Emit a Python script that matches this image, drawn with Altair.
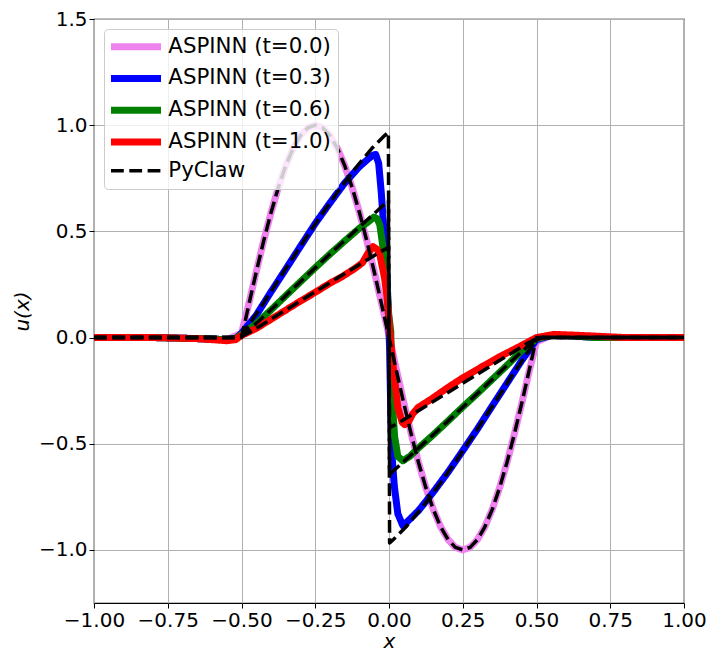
import altair as alt
import pandas as pd

LABELS = ["ASPINN (t=0.0)", "ASPINN (t=0.3)", "ASPINN (t=0.6)", "ASPINN (t=1.0)", "PyClaw"]
COLORS = ["violet", "blue", "green", "red", "black"]
WIDTHS = [7, 7, 7, 7, 3.5]
DASHES = [[1, 0], [1, 0], [1, 0], [1, 0], [12.8, 5.5]]

X_TICKS = [-1.0, -0.75, -0.5, -0.25, 0.0, 0.25, 0.5, 0.75, 1.0]
Y_TICKS = [-1.0, -0.5, 0.0, 0.5, 1.0, 1.5]

# ---------------- t = 0.0 ----------------
pc0_x = [-1.0, -0.75, -0.55, -0.5, -0.475, -0.45, -0.425, -0.4, -0.375, -0.35, -0.325, -0.3,
         -0.275, -0.25, -0.225, -0.2, -0.175, -0.15, -0.125, -0.1, -0.075, -0.05, -0.025, 0.0,
         0.025, 0.05, 0.075, 0.1, 0.125, 0.15, 0.175, 0.2, 0.225, 0.25, 0.275, 0.3, 0.325,
         0.35, 0.375, 0.4, 0.425, 0.45, 0.475, 0.5, 0.55, 0.75, 1.0]
pc0_u = [0.0, 0.0, 0.0, 0.0, 0.156, 0.309, 0.454, 0.588, 0.707, 0.809, 0.891, 0.951,
         0.988, 1.0, 0.988, 0.951, 0.891, 0.809, 0.707, 0.588, 0.454, 0.309, 0.156, 0.0,
         -0.156, -0.309, -0.454, -0.588, -0.707, -0.809, -0.891, -0.951, -0.988, -1.0, -0.988,
         -0.951, -0.891, -0.809, -0.707, -0.588, -0.454, -0.309, -0.156, 0.0, 0.0, 0.0, 0.0]

as0_x = pc0_x
as0_u = [0.0, 0.0, -0.01, 0.02, 0.16, 0.31, 0.455, 0.588, 0.707, 0.809, 0.891, 0.951,
         0.988, 1.0, 0.988, 0.951, 0.891, 0.809, 0.707, 0.588, 0.454, 0.31, 0.16, 0.01,
         -0.15, -0.305, -0.452, -0.588, -0.707, -0.809, -0.891, -0.951, -0.988, -1.0, -0.988,
         -0.951, -0.891, -0.809, -0.707, -0.588, -0.454, -0.31, -0.16, -0.02, 0.01, 0.0, 0.0]

# ---------------- t = 0.3 ----------------
pc3_x = [-1.0, -0.75, -0.55, -0.52, -0.5, -0.428, -0.357, -0.289, -0.224, -0.163, -0.107,
         -0.058, -0.015, -0.002, 0.002, 0.015, 0.058, 0.107, 0.163, 0.224, 0.289, 0.357,
         0.428, 0.5, 0.52, 0.55, 0.75, 1.0]
pc3_u = [0.0, 0.0, 0.0, 0.0, 0.01, 0.156, 0.309, 0.454, 0.588, 0.707, 0.809,
         0.891, 0.951, 0.967, -0.967, -0.951, -0.891, -0.809, -0.707, -0.588, -0.454, -0.309,
         -0.156, -0.01, 0.0, 0.0, 0.0, 0.0]

as3_x = [-1.0, -0.8, -0.65, -0.55, -0.52, -0.5, -0.45, -0.4, -0.35, -0.3, -0.25, -0.2, -0.15,
         -0.1, -0.07, -0.055, -0.045, -0.035, -0.026, -0.018, -0.009, -0.003, 0.002, 0.006,
         0.01, 0.018, 0.03, 0.047, 0.06, 0.1, 0.15, 0.2, 0.25, 0.3, 0.35, 0.4, 0.45, 0.5,
         0.55, 0.6, 0.7, 0.85, 1.0]
as3_u = [0.0, 0.0, -0.005, -0.01, -0.005, 0.02, 0.105, 0.215, 0.322, 0.43, 0.537, 0.634, 0.728,
         0.805, 0.842, 0.858, 0.862, 0.82, 0.68, 0.52, 0.36, 0.15, -0.05, -0.35,
         -0.55, -0.7, -0.83, -0.886, -0.87, -0.815, -0.728, -0.634, -0.533, -0.43, -0.322,
         -0.215, -0.108, -0.01, 0.01, 0.01, 0.0, 0.0, 0.0]

# ---------------- t = 0.6 ----------------
pc6_x = [-1.0, -0.75, -0.55, -0.52, -0.5, -0.44, -0.381, -0.323, -0.265, -0.208, -0.153,
         -0.099, -0.047, -0.008, -0.002, 0.002, 0.008, 0.047, 0.099, 0.153, 0.208, 0.265,
         0.323, 0.381, 0.44, 0.5, 0.52, 0.55, 0.75, 1.0]
pc6_u = [0.0, 0.0, 0.0, 0.0, 0.005, 0.079, 0.156, 0.233, 0.309, 0.383, 0.454,
         0.522, 0.588, 0.637, 0.645, -0.645, -0.637, -0.588, -0.522, -0.454, -0.383, -0.309,
         -0.233, -0.156, -0.079, -0.005, 0.0, 0.0, 0.0, 0.0]

as6_x = [-1.0, -0.8, -0.65, -0.55, -0.52, -0.5, -0.45, -0.4, -0.35, -0.3, -0.25, -0.2, -0.15,
         -0.1, -0.07, -0.051, -0.04, -0.031, -0.02, -0.009, -0.001, 0.006, 0.01, 0.019, 0.03,
         0.047, 0.07, 0.1, 0.15, 0.2, 0.25, 0.3, 0.35, 0.4, 0.45, 0.5, 0.55, 0.6, 0.7, 0.85, 1.0]
as6_u = [0.0, 0.0, -0.005, -0.01, -0.005, 0.015, 0.065, 0.13, 0.197, 0.263, 0.329, 0.393, 0.455,
         0.515, 0.545, 0.567, 0.56, 0.53, 0.42, 0.28, 0.11, 0.03, -0.28, -0.466, -0.56,
         -0.58, -0.56, -0.52, -0.458, -0.393, -0.327, -0.263, -0.197, -0.131, -0.062, -0.005,
         0.01, 0.01, 0.0, 0.0, 0.0]

# ---------------- t = 1.0 ----------------
pc10_x = [-1.0, -0.75, -0.55, -0.52, -0.5, -0.464, -0.427, -0.355, -0.283, -0.211, -0.141,
          -0.072, -0.038, -0.002, 0.002, 0.038, 0.072, 0.141, 0.211, 0.283, 0.355, 0.427,
          0.464, 0.5, 0.52, 0.55, 0.75, 1.0]
pc10_u = [0.0, 0.0, 0.0, 0.0, 0.005, 0.031, 0.063, 0.125, 0.187, 0.249, 0.309,
          0.368, 0.397, 0.425, -0.425, -0.397, -0.368, -0.309, -0.249, -0.187, -0.125, -0.063,
          -0.031, -0.005, 0.0, 0.0, 0.0, 0.0]

as10_x = [-1.0, -0.8, -0.65, -0.55, -0.52, -0.5, -0.45, -0.4, -0.35, -0.3, -0.25, -0.2, -0.161,
          -0.116, -0.09, -0.07, -0.054, -0.04, -0.031, -0.015, -0.005, 0.003, 0.0135, 0.03,
          0.045, 0.053, 0.065, 0.08, 0.098, 0.143, 0.2, 0.25, 0.312, 0.375, 0.425, 0.5, 0.56,
          0.65, 0.8, 1.0]
as10_u = [0.0, 0.0, -0.005, -0.015, -0.01, 0.01, 0.043, 0.086, 0.129, 0.172, 0.213, 0.256, 0.285,
          0.325, 0.352, 0.4, 0.428, 0.415, 0.39, 0.28, 0.17, 0.02, -0.13, -0.33,
          -0.4, -0.41, -0.4, -0.36, -0.33, -0.29, -0.235, -0.19, -0.14, -0.09, -0.055, 0.0, 0.015,
          0.01, 0.0, 0.0]

CURVES = [
    ("a0", LABELS[0], as0_x, as0_u),
    ("a3", LABELS[1], as3_x, as3_u),
    ("a6", LABELS[2], as6_x, as6_u),
    ("a10", LABELS[3], as10_x, as10_u),
    ("p0", LABELS[4], pc0_x, pc0_u),
    ("p3", LABELS[4], pc3_x, pc3_u),
    ("p6", LABELS[4], pc6_x, pc6_u),
    ("p10", LABELS[4], pc10_x, pc10_u),
]

frames = []
for cid, label, xs, us in CURVES:
    frames.append(pd.DataFrame({"x": xs, "u": us, "series": label, "curve": cid,
                                "order": list(range(len(xs)))}))
df = pd.concat(frames, ignore_index=True)

minus_expr = "replace(datum.label, '-', '\u2212')"

base = alt.Chart(df).mark_line(strokeCap="butt", strokeJoin="round", clip=True).encode(
    x=alt.X("x:Q", scale=alt.Scale(domain=[-1, 1], nice=False, zero=False),
            axis=alt.Axis(values=X_TICKS, format=".2f", labelExpr=minus_expr, title="x",
                          labelOverlap=False, labelBound=False, labelFlush=False)),
    y=alt.Y("u:Q", scale=alt.Scale(domain=[-1.25, 1.5], nice=False, zero=False),
            axis=alt.Axis(values=Y_TICKS, format=".1f", labelExpr=minus_expr, title="u(x)",
                          labelOverlap=False, labelBound=False, labelFlush=False)),
    color=alt.Color("series:N", scale=alt.Scale(domain=LABELS, range=COLORS),
                    legend=alt.Legend(title=None)),
    strokeDash=alt.StrokeDash("series:N", scale=alt.Scale(domain=LABELS, range=DASHES),
                              legend=alt.Legend(title=None)),
    strokeWidth=alt.StrokeWidth("series:N", scale=alt.Scale(type="ordinal", domain=LABELS, range=WIDTHS),
                                legend=alt.Legend(title=None)),
    order=alt.Order("order:Q"),
)

layers = [base.transform_filter(alt.datum.curve == cid) for cid, _, _, _ in CURVES]

chart = alt.layer(*layers).properties(
    width=590, height=584,
    autosize=alt.AutoSizeParams(type="none"),
    padding={"left": 86, "top": 11, "right": 22, "bottom": 49},
).configure_view(
    stroke="black", strokeWidth=1.2
).configure_axis(
    domain=False, grid=True, gridColor="#b0b0b0", gridWidth=1, gridOpacity=1,
    tickColor="black", tickSize=5, tickWidth=1,
    labelFont="DejaVu Sans", labelFontSize=20, labelColor="black", labelPadding=2,
    titleFont="DejaVu Sans", titleFontSize=20, titleFontWeight="normal",
    titleFontStyle="italic", titleColor="black",
).configure_axisX(
    titlePadding=1
).configure_axisY(
    titlePadding=6
).configure_legend(
    orient="none", legendX=10, legendY=10,
    symbolType="M-3.571,0H3.571", symbolSize=196, symbolStrokeWidth=7, symbolOffset=14.35,
    labelFont="DejaVu Sans", labelFontSize=21.3, labelColor="black", labelOffset=21.7,
    labelLimit=400, rowPadding=2.8, padding=7,
    fillColor="rgba(255,255,255,0.8)", strokeColor="#cccccc", cornerRadius=4,
)

chart.save("out.html", embed_options={"renderer": "svg", "actions": False})
